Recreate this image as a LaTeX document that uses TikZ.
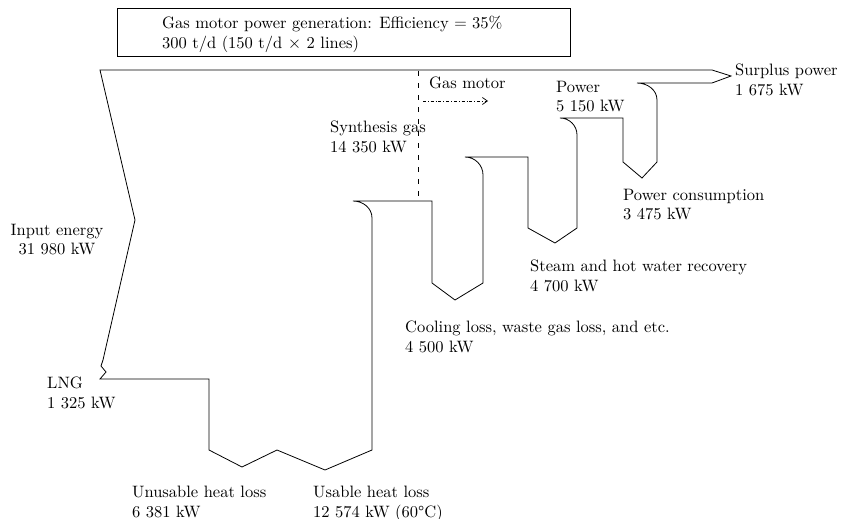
\documentclass[tikz,border=0pt]{standalone}
\usepackage{fontspec}
\setmainfont{lmroman10-regular.otf}
\usetikzlibrary{arrows.meta, positioning}

\begin{document}
\begin{tikzpicture}[x=1pt,y=-1pt,
    every node/.style={font=\fontsize{16.5}{19.5}\selectfont, inner sep=0pt}]
  \tikzstyle{flow}=[line width=0.8pt, line join=miter]
  \tikzstyle{lbl}=[anchor=north west, align=left]
  \useasboundingbox (0,0) rectangle (846,519);

  % Header box
  \draw[line width=0.8pt] (117,8) rectangle (570,56);
  \node[lbl] (title) at (162,16) {Gas motor power generation: Efficiency $=$ 35\%\\300 t/d (150 t/d $\times$ 2 lines)};

  % Energy flow outline
  \draw[flow] (100,70) -- (712,70) -- (731,76) -- (712,83) -- (637,83)
    to[out=0,in=90] (657,100) -- (657,162) -- (642,178) -- (623,162) -- (623,118)
    -- (560,118) to[out=0,in=90] (577,135) -- (577,228) -- (555,243) -- (528,228)
    -- (528,157) -- (465,157) to[out=0,in=90] (483,175) -- (483,283) -- (455,300)
    -- (432,283) -- (432,201) -- (353,201) to[out=0,in=90] (372,218) -- (372,450)
    -- (325,470) -- (277,450) -- (242,467) -- (209,450) -- (209,379) -- (100,379)
    -- (106,372) -- (101,366) -- (103,360) -- (135,220) -- cycle;

  % Gas motor split
  \coordinate (cutTop) at (418,71);
  \coordinate (cutBot) at (418,200);
  \draw[line width=0.8pt, dash pattern=on 5pt off 7pt] (cutTop) -- (cutBot);
  \node[lbl] (gasmotor) at (429,77) {Gas motor};
  \coordinate (gmA) at (423,101);
  \coordinate (gmB) at (488,101);
  \draw[line width=0.7pt, dash dot, -{Straight Barb[length=5pt,width=7pt]}] (gmA) -- (gmB);

  % Labels
  \node[lbl] (surplus) at (735,64) {Surplus power\\1~675 kW};
  \node[lbl] (power) at (556,81) {Power\\5~150 kW};
  \node[lbl] (synth) at (330,121) {Synthesis gas\\14~350 kW};
  \node[lbl] (consump) at (623,189) {Power consumption\\3~475 kW};
  \node[lbl] (steam) at (530,260) {Steam and hot water recovery\\4~700 kW};
  \node[lbl] (cooling) at (405,321) {Cooling loss, waste gas loss, and etc.\\4~500 kW};
  \node[anchor=north, align=center] (input) at (57,224) {Input energy\\31~980 kW};
  \node[lbl] (lng) at (47,377) {LNG\\1~325 kW};
  \node[lbl] (unusable) at (132,486) {Unusable heat loss\\6~381 kW};
  \node[lbl] (usable) at (313,486) {Usable heat loss\\12~574 kW (60°C)};
\end{tikzpicture}
\end{document}
